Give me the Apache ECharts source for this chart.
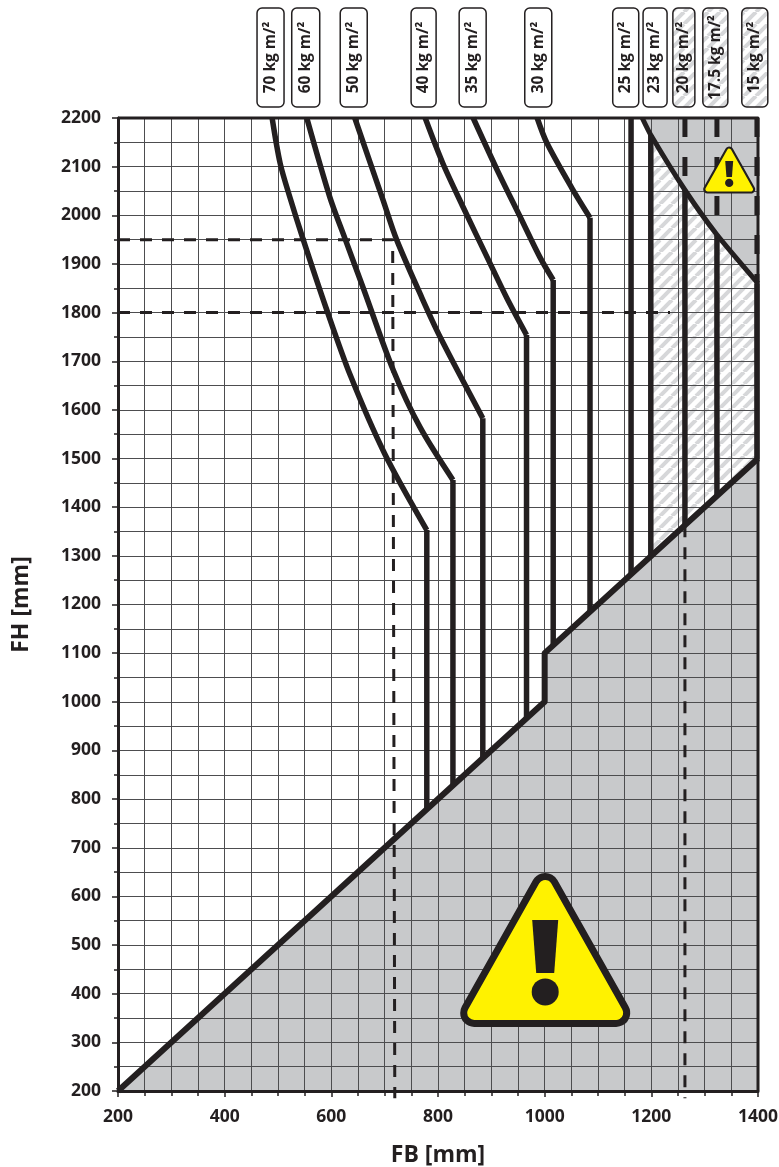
<!DOCTYPE html>
<html>
<head>
<meta charset="utf-8">
<style>html,body{margin:0;padding:0;background:#fff}#c{width:779px;height:1167px}</style>
<script src="https://cdn.jsdelivr.net/npm/echarts@6/dist/echarts.min.js"></script>
</head>
<body>
<div id="c"></div>
<script>
// ---- data (mm) ----
const labelTexts = ['70 kg m/²','60 kg m/²','50 kg m/²','40 kg m/²','35 kg m/²','30 kg m/²','25 kg m/²','23 kg m/²','20 kg m/²','17.5 kg m/²','15 kg m/²'];
const labelCenters = [486,552,642,773,865,988,1152,1207,1261,1320,1394];
const curve70 = [[489,2200],[504,2107],[522,2038],[547,1951],[590,1810],[636,1670],[700,1510],[779,1353]];
const curve60 = [[554,2200],[597,2038],[626,1951],[660,1850],[716,1682],[766,1565],[828,1456]];
const curve50 = [[644,2200],[697,2031],[722,1951],[770,1830],[804,1750],[884,1583]];
const curve40 = [[776,2200],[809,2107],[847,2017],[892,1914],[929,1830],[966,1754]];
const curve35 = [[866,2200],[911,2093],[954,1997],[991,1914],[1016,1867]];
const curve30 = [[986,2200],[1004,2149],[1051,2056],[1085,1995]];
const drop70 = [[779,1353],[779,779]];
const drop60 = [[828,1456],[828,828]];
const drop50 = [[884,1583],[884,884]];
const drop40 = [[966,1754],[966,966]];
const drop35 = [[1016,1867],[1016,1116]];
const drop30 = [[1085,1995],[1085,1185]];
const line25 = [[1162,2200],[1162,1262]];
const line23 = [[1199,2165],[1199,1299]];
const line20 = [[1263,2052],[1263,1363]];
const line175 = [[1323,1960],[1323,1423]];
const line15 = [[1398,1860],[1398,1498]];
const over20 = [[1263,2200],[1263,2052]];
const over175 = [[1323,2200],[1323,1960]];
const over15 = [[1398,2200],[1398,1860]];
const lowerBoundary = [[200,200],[1000,1000],[1000,1100],[1400,1500]];
const upperBoundary = [[1183,2200],[1199,2165],[1263,2052],[1323,1960],[1400,1860]];
const guideA = [[200,1950],[715,1950],[719,185]];
const guideB = [[200,1800],[1235,1800]];
const guideC = [[1263,1363],[1263,185]];
const frame = [[200,2200],[1400,2200],[1400,200]];
const warningMarks = [[1001,490,1],[1346,2093,0.306]];

// ---- styles ----
const INK = '#231f20', GREY = '#c8c9cb', LINE = '#4d4d4f', FONT = '"Open Sans",sans-serif';
const labelWidths = [27,28,27,25,27,27,26,24,22,25,26];
const hatchedFrom = 8;

function stripes() {
  const n = 12, cv = document.createElement('canvas');
  cv.width = n; cv.height = n;
  const g = cv.getContext('2d');
  g.fillStyle = '#fff'; g.fillRect(0,0,n,n);
  g.strokeStyle = '#d6d7d9'; g.lineWidth = 4;
  for (let k=-1;k<=1;k++){ g.beginPath(); g.moveTo(k*n,n); g.lineTo(k*n+n,0); g.stroke(); }
  return cv;
}
const hatch = {image: stripes(), repeat: 'repeat'};

function polygonSeries(points, fill) {
  return {
    type:'custom', coordinateSystem:'cartesian2d', z:0, silent:true, animation:false,
    data:[points[0]],
    renderItem:(p,api)=>({type:'polygon', shape:{points:points.map(q=>api.coord(q))}, style:{fill}})
  };
}
function thick(data, width, extra) {
  return Object.assign({
    type:'line', data, z:3, symbol:'none', silent:true, animation:false, clip:true,
    lineStyle:{color:INK, width:width||5.5, join:'round', cap:'butt'}
  }, extra||{});
}
function curved(data) { return thick(data, 5.5, {smooth:0.3, smoothMonotone:'none'}); }
function dashed(data) {
  return thick(data, 3, {z:2, clip:false, lineStyle:{color:INK,width:3,type:[12,10],cap:'butt'}});
}
function over(data) {
  return thick(data, 5, {z:2, lineStyle:{color:INK,width:5,type:[19,20],cap:'butt'}});
}

const lowerPoly = lowerBoundary.concat([[1400,200]]);
const upperPoly = upperBoundary.concat([[1400,2200]]);
const hatchPoly = upperBoundary.slice(1).concat([[1400,1500],[1199,1299]]);

const labelSeries = {
  type:'custom', coordinateSystem:'cartesian2d', z:4, silent:true, animation:false,
  data: labelCenters.map((x,i)=>[x,2200,i]),
  renderItem:(p,api)=>{
    const i = api.value(2), c = api.coord([api.value(0),api.value(1)]), w = labelWidths[i];
    return {type:'group', children:[
      {type:'rect', shape:{x:c[0]-w/2,y:c[1]-110,width:w,height:99,r:5},
       style:{fill:i>=hatchedFrom?hatch:'#fff',stroke:INK,lineWidth:1.5}},
      {type:'text', x:c[0], y:c[1]-60.5, rotation:Math.PI/2,
       style:{text:labelTexts[i],fill:INK,font:'700 15.5px '+FONT,align:'center',verticalAlign:'middle'}}
    ]};
  }
};
const warnSeries = {
  type:'custom', coordinateSystem:'cartesian2d', z:5, silent:true, animation:false,
  data: warningMarks,
  renderItem:(p,api)=>{
    const c = api.coord([api.value(0),api.value(1)]), s = api.value(2);
    const P = (x,y)=>[c[0]+x*s,c[1]+y*s];
    const tri = [P(0,-63),P(71,63),P(-71,63)];
    const sh = {points:tri};
    return {type:'group', children:[
      {type:'polygon', shape:sh, style:{fill:INK,stroke:INK,lineWidth:28*s,lineJoin:'round'}},
      {type:'polygon', shape:sh, style:{fill:'#fff200',stroke:'#fff200',lineWidth:14*s,lineJoin:'round'}},
      {type:'polygon', shape:{points:[P(-13,-30),P(13,-30),P(9,23),P(-9,23)]}, style:{fill:INK}},
      {type:'circle', shape:{cx:c[0],cy:c[1]+42*s,r:13.5*s}, style:{fill:INK}}
    ]};
  }
};

const chart = echarts.init(document.getElementById('c'), null, {renderer:'canvas'});
const axisText = {color:INK, fontFamily:FONT, fontWeight:700, fontSize:17.5, formatter:v=>String(v)};
const nameText = {color:INK, fontFamily:FONT, fontWeight:700, fontSize:23};
const gridStyle = {show:true, lineStyle:{color:LINE,width:1,type:'solid'}};
chart.setOption({
  animation:false,
  backgroundColor:'#fff',
  grid:{left:118,right:21,top:118,bottom:76,containLabel:false,outerBoundsMode:'none'},
  xAxis:{
    type:'value', min:200, max:1400, interval:200, z:1,
    name:'FB [mm]', nameLocation:'middle', nameGap:53, nameTextStyle:nameText,
    axisLine:{show:true,onZero:false,lineStyle:{color:INK,width:3}},
    axisTick:{show:true,length:6,lineStyle:{color:INK,width:1.5}},
    minorTick:{show:true,splitNumber:4,length:5,lineStyle:{color:INK,width:1.5}},
    splitLine:gridStyle, minorSplitLine:gridStyle,
    axisLabel:Object.assign({margin:17},axisText)
  },
  yAxis:{
    type:'value', min:200, max:2200, interval:100, z:1,
    name:'FH [mm]', nameLocation:'middle', nameGap:85, nameRotate:90, nameTextStyle:nameText,
    axisLine:{show:true,onZero:false,lineStyle:{color:INK,width:3}},
    axisTick:{show:true,length:6,lineStyle:{color:INK,width:1.5}},
    minorTick:{show:true,splitNumber:2,length:4,lineStyle:{color:INK,width:1.5}},
    splitLine:gridStyle, minorSplitLine:gridStyle,
    axisLabel:Object.assign({margin:17},axisText)
  },
  series:[
    polygonSeries(hatchPoly, hatch),
    polygonSeries(lowerPoly, GREY),
    polygonSeries(upperPoly, GREY),
    dashed(guideA), dashed(guideB), dashed(guideC),
    over(over20), over(over175), over(over15),
    curved(curve70), curved(curve60), curved(curve50), curved(curve40), curved(curve35), curved(curve30),
    thick(drop70), thick(drop60), thick(drop50), thick(drop40), thick(drop35), thick(drop30),
    thick(line25), thick(line23), thick(line20), thick(line175), thick(line15),
    thick(upperBoundary,5,{smooth:0.2, smoothMonotone:'none'}),
    thick(lowerBoundary,6,{clip:false}),
    thick(frame,3,{clip:false}),
    labelSeries, warnSeries
  ]
});
</script>
</body>
</html>
